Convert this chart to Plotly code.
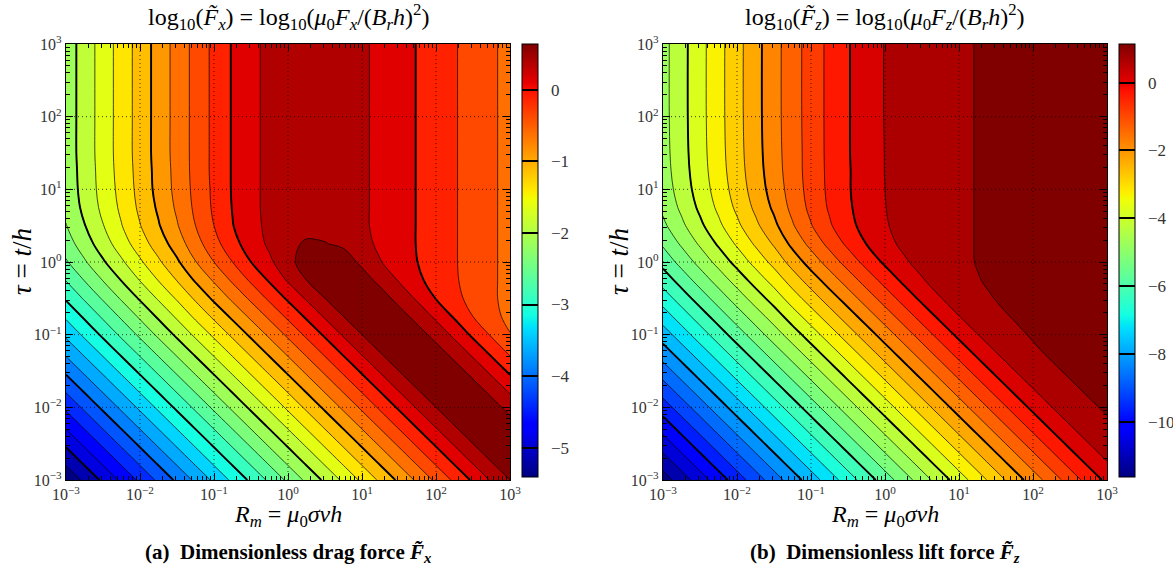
import numpy as np
import plotly.graph_objects as go

# Grid: log10 of magnetic Reynolds number (columns) and of tau = t/h (rows)
log_rm = [-3.0, -2.75, -2.5, -2.25, -2.0, -1.75, -1.5, -1.25, -1.0, -0.75, -0.5, -0.25, 0.0,
          0.25, 0.5, 0.75, 1.0, 1.25, 1.5, 1.75, 2.0, 2.25, 2.5, 2.75, 3.0]
log_tau = [-3.0, -2.75, -2.5, -2.25, -2.0, -1.75, -1.5, -1.25, -1.0, -0.75, -0.5, -0.25, 0.0,
           0.25, 0.5, 0.75, 1.0, 1.25, 1.5, 2.0, 3.0]

# log10 of the dimensionless drag force, in hundredths (one row per tau value)
drag_log_x100 = [
    [-545, -520, -495, -470, -445, -420, -395, -370, -345, -320, -295, -270, -245, -220, -195, -170, -145, -120, -95, -70, -45, -20, 4, 28, 50],
    [-520, -495, -470, -445, -420, -395, -370, -345, -320, -295, -270, -245, -220, -195, -170, -145, -120, -95, -70, -45, -20, 4, 28, 50, 65],
    [-495, -470, -445, -420, -395, -370, -345, -320, -295, -270, -245, -220, -195, -170, -145, -120, -95, -70, -45, -20, 4, 28, 50, 65, 70],
    [-470, -445, -420, -395, -370, -345, -320, -295, -270, -245, -220, -195, -170, -145, -120, -95, -70, -45, -20, 4, 28, 50, 65, 70, 60],
    [-445, -420, -395, -370, -345, -320, -295, -270, -245, -220, -195, -170, -145, -120, -95, -70, -45, -20, 4, 28, 50, 65, 70, 60, 42],
    [-420, -395, -370, -345, -320, -295, -270, -245, -220, -195, -170, -145, -120, -95, -70, -45, -20, 4, 28, 50, 65, 70, 60, 42, 19],
    [-395, -370, -345, -320, -295, -270, -245, -220, -195, -170, -145, -120, -95, -70, -45, -20, 4, 28, 50, 65, 70, 60, 42, 19, -5],
    [-370, -345, -320, -295, -270, -245, -220, -195, -170, -145, -120, -95, -70, -45, -20, 4, 28, 50, 65, 70, 60, 42, 19, -5, -29],
    [-345, -320, -295, -270, -245, -220, -195, -170, -145, -120, -95, -70, -45, -20, 4, 28, 50, 65, 70, 60, 42, 19, -5, -28, -49],
    [-321, -296, -271, -246, -221, -196, -171, -145, -120, -95, -70, -45, -20, 4, 28, 50, 65, 70, 60, 42, 20, -3, -25, -42, -57],
    [-297, -272, -247, -222, -197, -172, -147, -121, -95, -70, -45, -20, 4, 28, 50, 65, 70, 61, 42, 21, -1, -18, -33, -46, -58],
    [-274, -249, -224, -199, -174, -149, -124, -97, -72, -46, -21, 3, 28, 50, 65, 70, 61, 43, 23, 5, -10, -22, -35, -46, -58],
    [-253, -228, -203, -179, -154, -129, -104, -76, -50, -25, 0, 21, 40, 65, 70, 62, 45, 26, 12, 0, -12, -23, -35, -46, -58],
    [-237, -212, -187, -162, -137, -113, -88, -60, -34, -9, 13, 29, 44, 53, 51, 46, 33, 20, 9, -1, -12, -23, -35, -46, -58],
    [-226, -201, -176, -151, -126, -102, -77, -50, -25, -1, 17, 31, 39, 42, 42, 40, 29, 19, 9, -1, -12, -23, -35, -46, -58],
    [-219, -194, -169, -145, -120, -96, -71, -45, -21, 1, 19, 31, 37, 41, 42, 38, 29, 19, 9, -1, -12, -23, -35, -46, -58],
    [-216, -191, -166, -142, -117, -92, -68, -43, -20, 2, 19, 31, 37, 41, 42, 38, 29, 19, 9, -1, -12, -23, -35, -46, -58],
    [-215, -190, -165, -140, -116, -91, -67, -42, -19, 2, 19, 31, 37, 41, 42, 38, 29, 19, 9, -1, -12, -23, -35, -46, -58],
    [-214, -189, -164, -139, -115, -90, -66, -42, -19, 2, 19, 31, 37, 41, 42, 38, 29, 19, 9, -1, -12, -23, -35, -46, -58],
    [-214, -189, -164, -139, -115, -90, -66, -42, -19, 2, 19, 31, 37, 41, 42, 38, 29, 19, 9, -1, -12, -23, -35, -46, -58],
    [-214, -189, -164, -139, -115, -90, -66, -42, -19, 2, 19, 31, 37, 41, 42, 38, 29, 19, 9, -1, -12, -23, -35, -46, -58],
]

# log10 of the dimensionless lift force, in hundredths
lift_log_x100 = [
    [-1175, -1125, -1075, -1025, -975, -925, -875, -825, -775, -725, -675, -625, -575, -525, -475, -425, -375, -325, -275, -225, -176, -126, -78, -31, 12],
    [-1125, -1075, -1025, -975, -925, -875, -825, -775, -725, -675, -625, -575, -525, -475, -425, -375, -325, -275, -225, -176, -126, -78, -31, 12, 49],
    [-1075, -1025, -975, -925, -875, -825, -775, -725, -675, -625, -575, -525, -475, -425, -375, -325, -275, -225, -176, -126, -78, -31, 12, 49, 77],
    [-1025, -975, -925, -875, -825, -775, -725, -675, -625, -575, -525, -475, -425, -375, -325, -275, -225, -176, -126, -78, -31, 12, 49, 77, 95],
    [-975, -925, -875, -825, -775, -725, -675, -625, -575, -525, -475, -425, -375, -325, -275, -225, -176, -126, -78, -31, 12, 49, 77, 95, 104],
    [-925, -875, -825, -775, -725, -675, -625, -575, -525, -475, -425, -375, -325, -275, -225, -176, -126, -78, -31, 12, 49, 77, 95, 104, 108],
    [-875, -825, -775, -725, -675, -625, -575, -525, -475, -425, -375, -325, -275, -225, -176, -126, -78, -31, 12, 49, 77, 95, 104, 108, 110],
    [-825, -775, -725, -675, -625, -575, -525, -475, -425, -375, -325, -275, -225, -176, -126, -78, -31, 12, 49, 77, 95, 104, 108, 109, 110],
    [-775, -725, -675, -625, -575, -525, -475, -425, -375, -325, -275, -225, -176, -126, -78, -31, 12, 49, 77, 94, 103, 107, 109, 111, 112],
    [-726, -676, -626, -576, -526, -476, -427, -375, -325, -275, -225, -176, -126, -78, -31, 12, 49, 76, 94, 102, 107, 109, 111, 113, 114],
    [-677, -627, -577, -527, -477, -427, -378, -325, -275, -225, -176, -126, -78, -31, 12, 48, 76, 92, 101, 106, 109, 111, 112, 113, 114],
    [-629, -579, -529, -479, -429, -379, -330, -277, -226, -176, -127, -78, -32, 11, 46, 73, 90, 99, 104, 108, 110, 111, 112, 113, 114],
    [-583, -533, -483, -433, -383, -333, -284, -230, -178, -128, -79, -33, 9, 43, 66, 83, 95, 101, 105, 108, 110, 112, 113, 113, 114],
    [-543, -493, -443, -393, -343, -293, -244, -187, -135, -85, -39, 1, 36, 59, 74, 87, 96, 101, 105, 108, 110, 112, 113, 113, 114],
    [-511, -461, -411, -361, -311, -261, -212, -155, -103, -56, -15, 18, 46, 64, 77, 89, 96, 101, 105, 108, 110, 112, 113, 113, 114],
    [-490, -440, -390, -340, -290, -240, -191, -136, -87, -44, -7, 23, 49, 65, 79, 89, 96, 101, 105, 108, 110, 112, 113, 113, 114],
    [-478, -428, -378, -328, -278, -228, -179, -128, -81, -40, -4, 24, 50, 66, 80, 89, 96, 101, 105, 108, 110, 112, 113, 113, 114],
    [-472, -422, -372, -322, -272, -222, -173, -124, -79, -39, -4, 24, 51, 67, 80, 89, 96, 101, 105, 108, 110, 112, 113, 113, 114],
    [-469, -419, -369, -319, -269, -219, -170, -123, -79, -38, -3, 24, 51, 68, 80, 89, 96, 101, 105, 108, 110, 112, 113, 113, 114],
    [-467, -417, -367, -317, -267, -217, -168, -122, -78, -38, -3, 25, 52, 68, 80, 89, 96, 101, 105, 108, 110, 112, 113, 113, 114],
    [-467, -417, -367, -317, -267, -217, -168, -122, -78, -38, -3, 25, 52, 68, 80, 89, 96, 101, 105, 108, 110, 112, 113, 113, 114],
]

decades = [-3, -2, -1, 0, 1, 2, 3]
decade_labels = ["10<sup>\u22123</sup>", "10<sup>\u22122</sup>", "10<sup>\u22121</sup>", "10<sup>0</sup>",
                 "10<sup>1</sup>", "10<sup>2</sup>", "10<sup>3</sup>"]
drag_bar_ticks = [-5, -4, -3, -2, -1, 0]
lift_bar_ticks = [-10, -8, -6, -4, -2, 0]


def jet_scale():
    # piecewise-linear 'jet' colour map
    r = [(0, 0), (0.35, 0), (0.66, 1), (0.89, 1), (1, 0.5)]
    g = [(0, 0), (0.125, 0), (0.375, 1), (0.64, 1), (0.91, 0), (1, 0)]
    b = [(0, 0.5), (0.11, 1), (0.34, 1), (0.65, 0), (1, 0)]
    stops = sorted(set(s for s, _ in r + g + b))

    def f(seg, t):
        return float(np.interp(t, [s for s, _ in seg], [v for _, v in seg]))
    return [[t, "rgb(%d,%d,%d)" % (round(255 * f(r, t)), round(255 * f(g, t)), round(255 * f(b, t)))]
            for t in stops]


JET = jet_scale()
W, H = 1173, 574
FONT = "Liberation Serif"
PLOT_Y0, PLOT_Y1 = 44, 480

panels = [
    dict(z=np.array(drag_log_x100) / 100.0, start=-5.25, end=0.5, size=0.25, tstart=-5, tend=0, tsize=1,
         cmin=-5.41, cmax=0.64, cticks=drag_bar_ticks, ax="x", ay="y", x0=66, x1=510, cbx=522, sub="x",
         caption="(a)  Dimensionless drag force <i>F\u0303<sub>x</sub></i>"),
    dict(z=np.array(lift_log_x100) / 100.0, start=-11.5, end=1.0, size=0.5, tstart=-10, tend=0, tsize=2,
         cmin=-11.63, cmax=1.14, cticks=lift_bar_ticks, ax="x2", ay="y2", x0=663, x1=1107, cbx=1119, sub="z",
         caption="(b)  Dimensionless lift force <i>F\u0303<sub>z</sub></i>"),
]

minor = [float(np.log10(k * 10.0 ** d)) for d in range(-3, 3) for k in range(2, 10)]
GRID = dict(color="rgba(0,0,0,0.75)", width=1, dash="1px,3px")

fig = go.Figure()
shapes, ann = [], []
for i, pn in enumerate(panels):
    # filled bands with thin contour lines
    fig.add_trace(go.Contour(
        x=log_rm, y=log_tau, z=pn["z"], xaxis=pn["ax"], yaxis=pn["ay"],
        contours=dict(start=pn["start"], end=pn["end"], size=pn["size"], coloring="fill"),
        colorscale=JET, showscale=False, line=dict(color="black", width=0.7, smoothing=1),
        hoverinfo="skip"))
    # heavier lines on the labelled levels
    fig.add_trace(go.Contour(
        x=log_rm, y=log_tau, z=pn["z"], xaxis=pn["ax"], yaxis=pn["ay"],
        contours=dict(start=pn["tstart"], end=pn["tend"], size=pn["tsize"], coloring="none"),
        showscale=False, line=dict(color="black", width=1.9, smoothing=1), hoverinfo="skip"))
    # colour bar
    fig.add_trace(go.Scatter(
        x=[None, None], y=[None, None], xaxis=pn["ax"], yaxis=pn["ay"], mode="markers",
        showlegend=False, hoverinfo="skip",
        marker=dict(color=[pn["cmin"], pn["cmax"]], cmin=pn["cmin"], cmax=pn["cmax"], colorscale=JET,
                    showscale=True,
                    colorbar=dict(x=pn["cbx"] / W, xanchor="left", y=1 - 260.5 / H, yanchor="middle",
                                  len=433 / H, lenmode="fraction", thickness=16, thicknessmode="pixels",
                                  xpad=0, ypad=0, outlinewidth=1, outlinecolor="black",
                                  tickvals=pn["cticks"],
                                  ticktext=["\u2002" + str(t).replace("-", "\u2212") for t in pn["cticks"]],
                                  ticks="inside", ticklen=16, tickwidth=2, tickcolor="black",
                                  tickfont=dict(family=FONT, size=17, color="#333")))))
    axn = "" if i == 0 else "2"
    common = dict(range=[-3, 3], tickvals=decades, ticktext=decade_labels, ticks="inside", ticklen=7,
                  tickwidth=1, tickcolor="black", mirror="allticks", showline=True, linecolor="black",
                  linewidth=1.2, showgrid=False, zeroline=False, automargin=False,
                  tickfont=dict(family=FONT, size=16, color="#333"),
                  minor=dict(tickvals=minor, ticks="inside", ticklen=3.5, tickcolor="black", tickwidth=1),
                  layer="above traces")
    fig.update_layout(**{
        "xaxis" + axn: dict(domain=[pn["x0"] / W, pn["x1"] / W], anchor="y" + axn, **common),
        "yaxis" + axn: dict(domain=[1 - PLOT_Y1 / H, 1 - PLOT_Y0 / H], anchor="x" + axn, **common),
    })
    for d in decades[1:-1]:
        shapes.append(dict(type="line", xref=pn["ax"], yref=pn["ay"] + " domain", x0=d, x1=d, y0=0, y1=1,
                           line=GRID, layer="above"))
        shapes.append(dict(type="line", xref=pn["ax"] + " domain", yref=pn["ay"], x0=0, x1=1, y0=d, y1=d,
                           line=GRID, layer="above"))

    cx = (pn["x0"] + pn["x1"]) / 2 / W
    s = pn["sub"]

    def put(x, y, text, size, angle=0):
        ann.append(dict(x=x, y=y, xref="paper", yref="paper", xanchor="center", yanchor="middle",
                        showarrow=False, text=text, textangle=angle,
                        font=dict(family=FONT, size=size, color="black")))

    put(cx, 1 - 17 / H,
        ("log<sub>10</sub>(<i>F\u0303<sub>%s</sub></i>) = log<sub>10</sub>"
         "(<i>\u03bc</i><sub>0</sub><i>F<sub>%s</sub></i>/(<i>B<sub>r</sub>h</i>)<sup>2</sup>)") % (s, s), 24)
    put(cx, 1 - 516 / H, "<i>R<sub>m</sub></i> = <i>\u03bc</i><sub>0</sub><i>\u03c3vh</i>", 24)
    put(cx, 1 - 553 / H, "<b>%s</b>" % pn["caption"], 21)
    put((pn["x0"] - 44) / W, 1 - 262 / H, "<i>\u03c4</i> = <i>t</i>/<i>h</i>", 27, -90)

fig.update_layout(width=W, height=H, margin=dict(l=0, r=0, t=0, b=0, autoexpand=False),
                  paper_bgcolor="white", plot_bgcolor="white", showlegend=False,
                  shapes=shapes, annotations=ann)
fig.write_html("out.html")
